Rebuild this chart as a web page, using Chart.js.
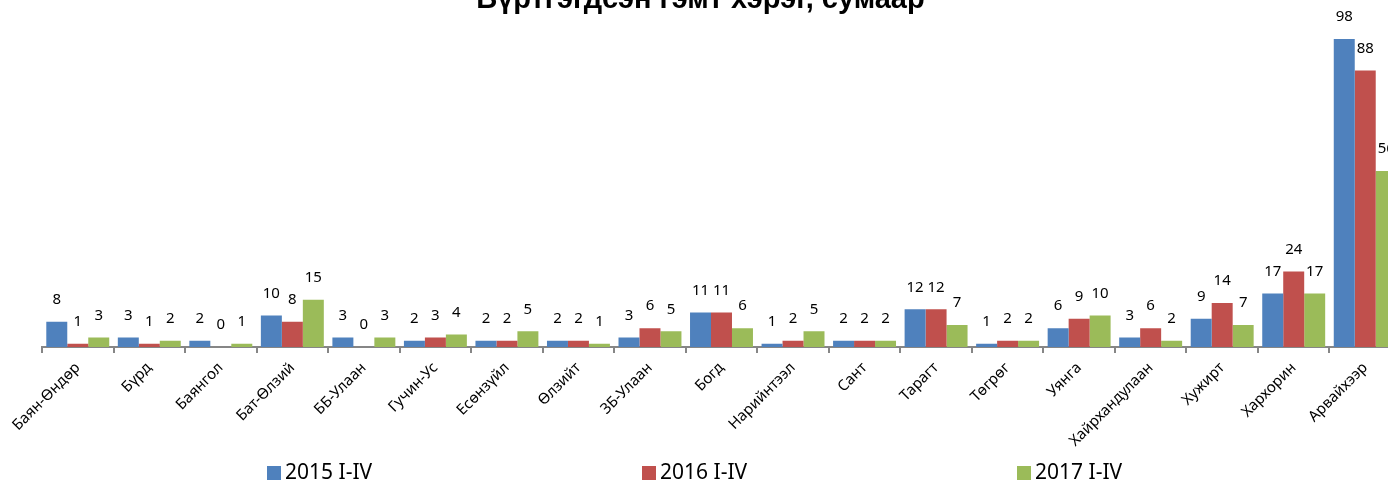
<!DOCTYPE html>
<html>
<head>
<meta charset="utf-8">
<script src="https://cdn.jsdelivr.net/npm/chart.js@4"></script>
<style>
  html, body { margin: 0; padding: 0; background: #fff; overflow: hidden; }
  #wrap { position: absolute; left: 0; top: -17px; }
</style>
</head>
<body>
<div id="wrap"><canvas id="crimeChart" width="1401" height="499"></canvas></div>
<script>
// sums (districts) along the x axis
const soums = [
  'Баян-Өндөр', 'Бүрд', 'Баянгол', 'Бат-Өлзий', 'ББ-Улаан', 'Гучин-Ус',
  'Есөнзүйл', 'Өлзийт', 'ЗБ-Улаан', 'Богд', 'Нарийнтээл', 'Сант',
  'Тарагт', 'Төгрөг', 'Уянга', 'Хайрхандулаан', 'Хужирт', 'Хархорин', 'Арвайхээр'
];

const seriesNames = ['2015 I-IV', '2016 I-IV', '2017 I-IV'];

const cases2015 = [8, 3, 2, 10, 3, 2, 2, 2, 3, 11, 1, 2, 12, 1, 6, 3, 9, 17, 98];
const cases2016 = [1, 1, 0, 8, 0, 3, 2, 2, 6, 11, 2, 2, 12, 2, 9, 6, 14, 24, 88];
const cases2017 = [3, 2, 1, 15, 3, 4, 5, 1, 5, 6, 5, 2, 7, 2, 10, 2, 7, 17, 56];

const seriesColors = ['#4F81BD', '#C0504D', '#9BBB59'];

const sansFont = '"Noto Sans", "Open Sans", "DejaVu Sans", sans-serif';

// value labels above each bar
const valueLabels = {
  id: 'valueLabels',
  afterDatasetsDraw(chart) {
    const { ctx } = chart;
    ctx.save();
    ctx.font = '15px ' + sansFont;
    ctx.fillStyle = '#000';
    ctx.textAlign = 'center';
    ctx.textBaseline = 'middle';
    chart.data.datasets.forEach((ds, i) => {
      chart.getDatasetMeta(i).data.forEach((bar, j) => {
        ctx.fillText(String(ds.data[j]), bar.x, bar.y - 22);
      });
    });
    ctx.restore();
  }
};

// Excel-style legend, items spread wide along the bottom
const wideLegend = {
  id: 'wideLegend',
  afterDraw(chart) {
    const { ctx } = chart;
    const y = 490;
    ctx.save();
    ctx.font = '21px ' + sansFont;
    ctx.textBaseline = 'middle';
    ctx.textAlign = 'left';
    chart.data.datasets.forEach((ds, i) => {
      const x = 267 + i * 375;
      ctx.fillStyle = ds.backgroundColor;
      ctx.fillRect(x, y - 7, 14, 14);
      ctx.fillStyle = '#000';
      ctx.fillText(ds.label, x + 18, y);
    });
    ctx.restore();
  }
};

const ctx = document.getElementById('crimeChart').getContext('2d');
new Chart(ctx, {
  type: 'bar',
  data: {
    labels: soums,
    datasets: [cases2015, cases2016, cases2017].map((d, i) => ({
      label: seriesNames[i],
      data: d,
      backgroundColor: seriesColors[i],
      borderWidth: 0,
      categoryPercentage: 0.88,
      barPercentage: 1.0
    }))
  },
  options: {
    responsive: false,
    animation: false,
    layout: { padding: { left: 0, right: 0, top: 0, bottom: 25 } },
    plugins: {
      legend: { display: false },
      tooltip: { enabled: false },
      title: {
        display: true,
        text: 'Бүртгэгдсэн гэмт хэрэг, сумаар',
        color: '#000',
        font: { family: '"Liberation Sans", Arial, sans-serif', size: 29, weight: 'bold' },
        padding: { top: 0, bottom: 15 }
      }
    },
    scales: {
      x: {
        grid: {
          offset: true,
          drawOnChartArea: false,
          tickLength: 6,
          color: '#868686',
          lineWidth: 2
        },
        border: { color: '#868686', width: 2 },
        ticks: {
          autoSkip: false,
          minRotation: 45,
          maxRotation: 45,
          padding: 6,
          color: '#000',
          font: { family: sansFont, size: 15 }
        },
        afterFit(scale) { scale.height = 110; }
      },
      y: {
        min: 0,
        max: 100,
        ticks: { display: false },
        grid: { display: false },
        border: { display: false },
        afterFit(scale) { scale.width = 42; }
      }
    }
  },
  plugins: [valueLabels, wideLegend]
});
</script>
</body>
</html>
